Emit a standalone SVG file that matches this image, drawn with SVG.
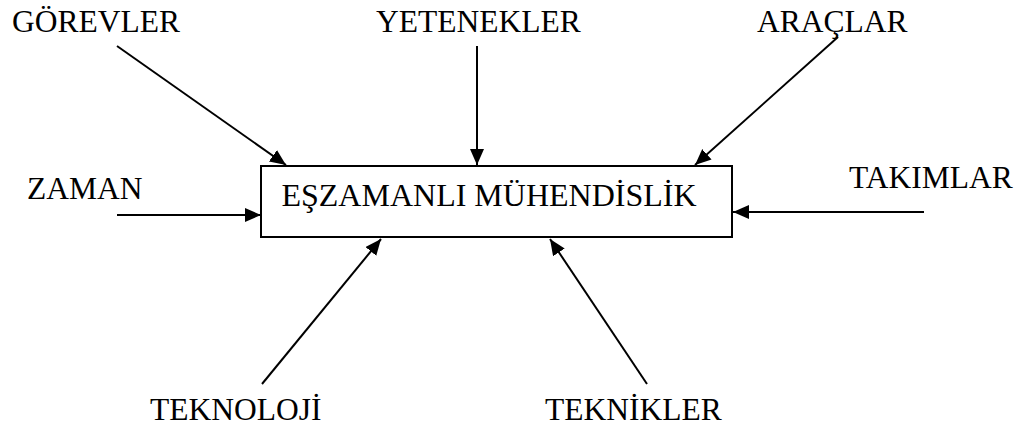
<svg xmlns="http://www.w3.org/2000/svg" width="1021" height="426" viewBox="0 0 1021 426">
  <style>
    .lbl { font-size: 31.5px; fill: #000; }
    .title { font-size: 32px; fill: #000; }
    .box { fill: #fff; stroke: #000; stroke-width: 2; }
    .conn { stroke: #000; stroke-width: 2; fill: none; marker-end: url(#arrow); }
  </style>
  <defs>
    <marker id="arrow" markerUnits="userSpaceOnUse" markerWidth="17" markerHeight="15" refX="16" refY="7" orient="auto">
      <path d="M0,0 L16,7 L0,14 z" fill="#000"/>
    </marker>
  </defs>
  <rect width="1021" height="426" fill="#fff"/>

  <g font-family="Liberation Serif, Times New Roman, serif">
    <g id="center">
      <rect class="box" x="261" y="166" width="471" height="71"/>
      <text class="title" x="489" y="206" text-anchor="middle">EŞZAMANLI MÜHENDİSLİK</text>
    </g>

    <g id="gorevler"><text class="lbl" x="12" y="32">GÖREVLER</text></g>
    <g id="yetenekler"><text class="lbl" x="376" y="32">YETENEKLER</text></g>
    <g id="araclar"><text class="lbl" x="757" y="32">ARAÇLAR</text></g>
    <g id="zaman"><text class="lbl" x="27" y="199">ZAMAN</text></g>
    <g id="takimlar"><text class="lbl" x="849" y="188">TAKIMLAR</text></g>
    <g id="teknoloji"><text class="lbl" x="150" y="420">TEKNOLOJİ</text></g>
    <g id="teknikler"><text class="lbl" x="545" y="420">TEKNİKLER</text></g>
  </g>

  <g id="connectors">
    <line class="conn" x1="117" y1="46" x2="286" y2="165"/>
    <line class="conn" x1="477" y1="46" x2="477" y2="165"/>
    <line class="conn" x1="838" y1="37" x2="695" y2="165"/>
    <line class="conn" x1="117" y1="215" x2="261" y2="215"/>
    <line class="conn" x1="924" y1="212" x2="733" y2="212"/>
    <line class="conn" x1="262" y1="384" x2="381" y2="239"/>
    <line class="conn" x1="647" y1="384" x2="550" y2="239"/>
  </g>
</svg>
